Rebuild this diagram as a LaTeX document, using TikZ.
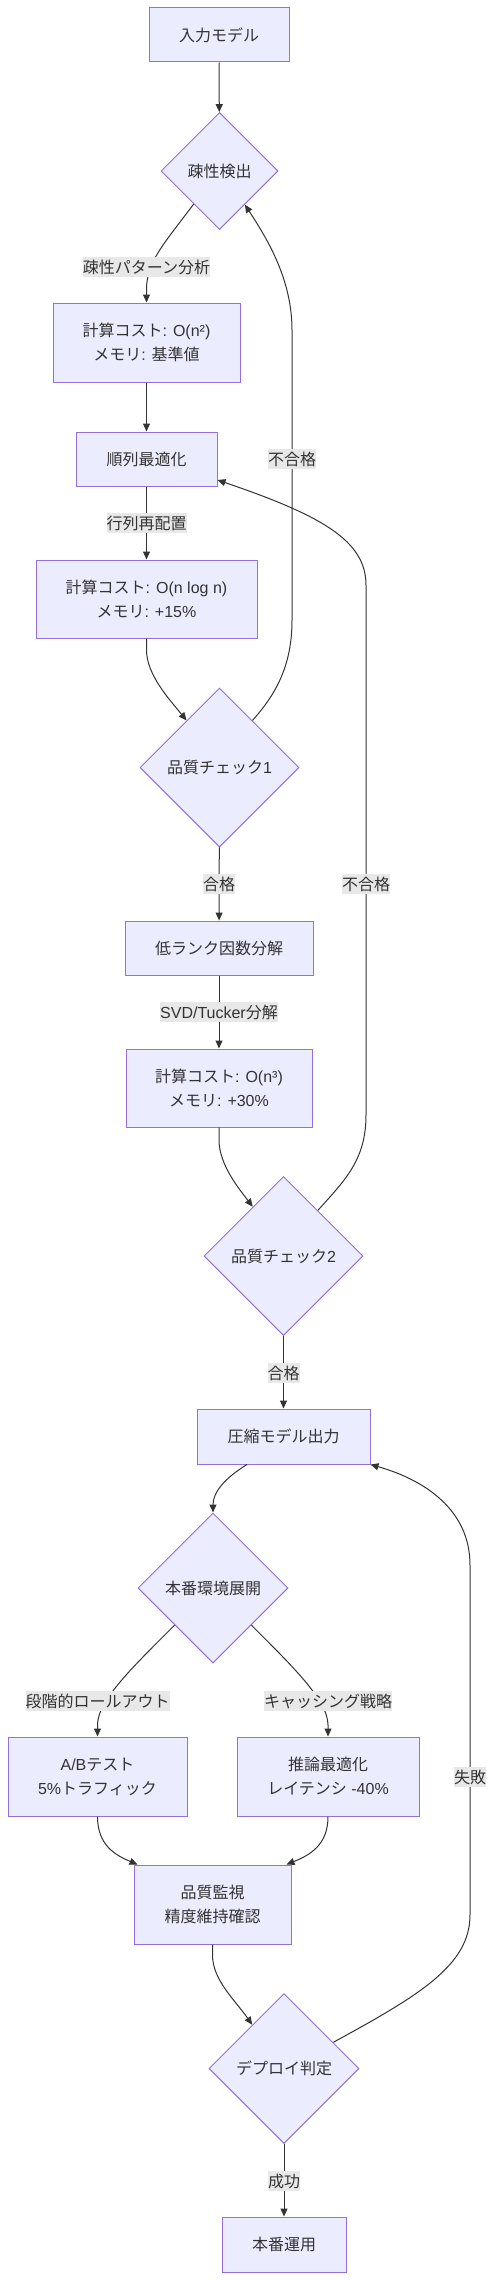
\documentclass[tikz,border=0pt]{standalone}
\usepackage{fontspec}
\setmainfont{Liberation Sans}
\newfontfamily\jpfont{Noto Sans CJK JP}
\usetikzlibrary{shapes.geometric,arrows.meta}
\definecolor{nodefill}{HTML}{ECECFF}
\definecolor{nodeline}{HTML}{9370DB}
\definecolor{txt}{HTML}{333333}
\definecolor{lblbg}{HTML}{E8E8E8}
\newcommand{\J}[1]{{\jpfont #1}}
\begin{document}
\begin{tikzpicture}[x=1pt,y=-1pt,
  font=\fontsize{16}{24}\selectfont, text=txt,
  box/.style={rectangle, draw=nodeline, fill=nodefill, line width=1pt, inner sep=0pt, align=center},
  dia/.style={diamond, draw=nodeline, fill=nodefill, line width=1pt, inner sep=0pt, aspect=1, align=center},
  edge/.style={draw=txt, line width=1pt, -{Triangle[length=8pt,width=7pt]}},
  lbl/.style={fill=lblbg, inner xsep=0pt, inner ysep=3pt, text=txt}]
\useasboundingbox (0,0) rectangle (494,2280);

% nodes
\node[box, minimum width=140pt, minimum height=54pt] (n1) at (219,35) {\J{入力モデル}};
\node[dia, minimum width=117pt, minimum height=117pt] (d1) at (219.5,171) {\J{疎性検出}};
\node[box, minimum width=187pt, minimum height=79pt] (b1) at (146.5,342.5) {\J{計算コスト}: O(n²)\\\J{メモリ}: \J{基準値}};
\node[box, minimum width=141pt, minimum height=54pt] (b2) at (146.5,459) {\J{順列最適化}};
\node[box, minimum width=221pt, minimum height=78pt] (b3) at (146.5,599) {\J{計算コスト}: O(n log n)\\\J{メモリ}: +15\%};
\node[dia, minimum width=159pt, minimum height=159pt] (d2) at (219.5,767.5) {\J{品質チェック}1};
\node[box, minimum width=188pt, minimum height=54pt] (b4) at (219,948) {\J{低ランク因数分解}};
\node[box, minimum width=186pt, minimum height=78pt] (b5) at (219,1088) {\J{計算コスト}: O(n³)\\\J{メモリ}: +30\%};
\node[dia, minimum width=159pt, minimum height=159pt] (d3) at (283.5,1256) {\J{品質チェック}2};
\node[box, minimum width=173pt, minimum height=55pt] (b6) at (283.5,1436.5) {\J{圧縮モデル出力}};
\node[dia, minimum width=150pt, minimum height=150pt] (d4) at (213,1588) {\J{本番環境展開}};
\node[box, minimum width=179pt, minimum height=79pt] (b7) at (97.5,1776.5) {A/B\J{テスト}\\5\%\J{トラフィック}};
\node[box, minimum width=182pt, minimum height=79pt] (b8) at (328,1776.5) {\J{推論最適化}\\\J{レイテンシ} -40\%};
\node[box, minimum width=157pt, minimum height=79pt] (b9) at (212.5,1904.5) {\J{品質監視}\\\J{精度維持確認}};
\node[dia, minimum width=150pt, minimum height=150pt] (d5) at (284,2068.5) {\J{デプロイ判定}};
\node[box, minimum width=124pt, minimum height=55pt] (b10) at (284,2244.5) {\J{本番運用}};

% edges
\draw[edge] (n1) -- (d1);
\draw[edge] (d1.232) .. controls (163,245) and (146.5,262) .. (146.5,290) -- (b1.north);
\draw[edge] (b1) -- (b2);
\draw[edge] (b2) -- (b3);
\draw[edge] (b3.south) -- (146.5,650) .. controls (146.5,675) and (170,700) .. (d2.125);
\draw[edge] (d2.55) .. controls (280,690) and (292,660) .. (292,620) -- (292,330) .. controls (292,280) and (268,240) .. (d1.-53);
\draw[edge] (d2) -- (b4);
\draw[edge] (b4) -- (b5);
\draw[edge] (b5.south) -- (219,1140) .. controls (219,1165) and (240,1190) .. (d3.122);
\draw[edge] (d3.53) .. controls (345,1180) and (366,1160) .. (366,1115) -- (366,585) .. controls (366,540) and (320,515) .. ([yshift=-21pt]b2.east);
\draw[edge] (d3) -- (b6);
\draw[edge] ([xshift=-36.5pt]b6.south) .. controls (225,1478) and (213,1492) .. (d4.north);
\draw[edge] (d4.224) .. controls (135,1665) and (97.5,1700) .. (97.5,1725) -- (b7.north);
\draw[edge] (d4.-44) .. controls (291,1665) and (328,1700) .. (328,1725) -- (b8.north);
\draw[edge] (b7.south) .. controls (97.5,1845) and (115,1855) .. ([xshift=4pt]b9.north west);
\draw[edge] (b8.south) .. controls (328,1845) and (310,1855) .. ([xshift=-5pt]b9.north east);
\draw[edge] (b9.south) -- (212.5,1955) .. controls (212.5,1980) and (235,2000) .. (d5.126);
\draw[edge] (d5.28) .. controls (420,1995) and (470,1965) .. (470,1915) -- (470,1565) .. controls (470,1510) and (425,1480) .. (b6.south east);
\draw[edge] (d5) -- (b10);

% edge labels
\node[lbl] (l1) at (146.5,267) {\J{疎性パターン分析}};
\node[lbl] (l2) at (146.5,523) {\J{行列再配置}};
\node[lbl] (l3) at (292,459) {\J{不合格}};
\node[lbl] (l4) at (219,884) {\J{合格}};
\node[lbl] (l5) at (366,884) {\J{不合格}};
\node[lbl] (l6) at (219,1012) {SVD/Tucker\J{分解}};
\node[lbl] (l7) at (283.5,1373) {\J{合格}};
\node[lbl] (l8) at (97.5,1701) {\J{段階的ロールアウト}};
\node[lbl] (l9) at (328,1701) {\J{キャッシング戦略}};
\node[lbl] (l10) at (470,1777) {\J{失敗}};
\node[lbl] (l11) at (284,2181) {\J{成功}};
\end{tikzpicture}
\end{document}
